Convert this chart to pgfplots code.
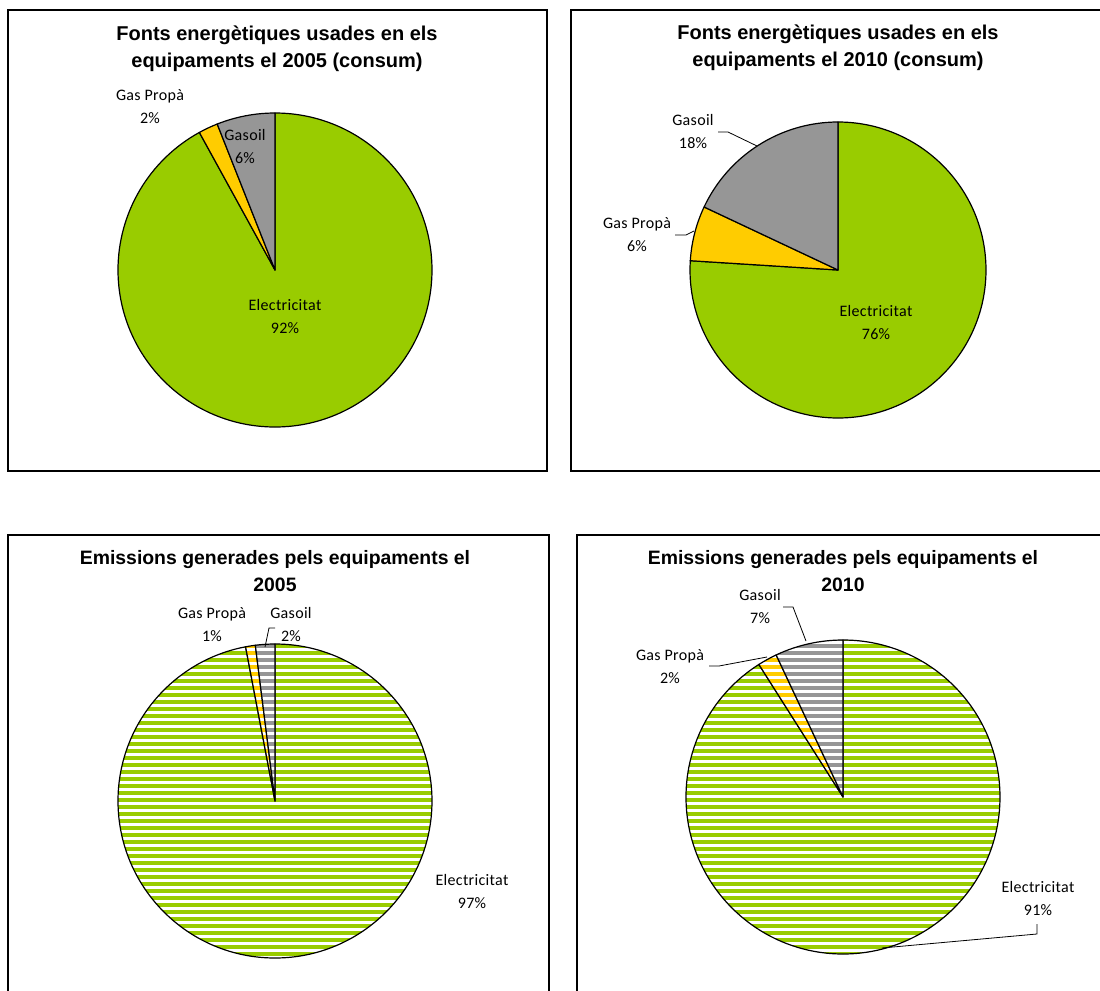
\documentclass[border=0pt]{standalone}
\usepackage{fontspec}
\setmainfont{Liberation Sans}
\newfontfamily\labfont[LetterSpace=2]{Carlito}
\usepackage{pgfplots}
\pgfplotsset{compat=1.18}
\usetikzlibrary{patterns.meta}
\definecolor{elec}{HTML}{99CC00}
\definecolor{propa}{HTML}{FFCC00}
\definecolor{gasoil}{HTML}{969696}
\tikzdeclarepattern{
  name=hstripes,
  type=uncolored,
  bounding box={(-1pt,-0.2pt) and (5pt,3.7pt)},
  tile size={(4pt,3.5pt)},
  code={\pgfpathrectangle{\pgfpoint{-1pt}{0pt}}{\pgfpoint{6pt}{2pt}}\pgfusepath{fill}}
}
% slice from cumulative percent #1 to #2, options #3, radius #4 (pt)
\newcommand\slice[4]{%
  \pgfmathsetmacro\aS{90-3.6*#1}%
  \pgfmathsetmacro\aE{90-3.6*#2}%
  \edef\doslice{\noexpand\path[\unexpanded{#3}] (axis cs:0,0) -- (axis cs:{cos(\aS)},{sin(\aS)}) arc[start angle=\aS, end angle=\aE, radius=\unexpanded{#4}] -- cycle;}%
  \doslice}
\tikzset{
  lab/.style={font=\labfont\fontsize{8}{11.5}\selectfont, align=center, inner sep=0pt},
  tit/.style={font=\fontsize{10}{13.5}\selectfont\bfseries, align=center, inner sep=0pt},
  titb/.style={font=\fontsize{9.7}{13.2}\selectfont\bfseries, align=center, inner sep=0pt},
  solid slice/.style={fill=#1, draw=black, line width=0.6pt, line join=round},
  hatch slice/.style={preaction={fill=white}, pattern=hstripes, pattern color=#1, draw=black, line width=0.6pt, line join=round}
}
\pgfplotsset{pie/.style={hide axis, scale only axis, anchor=center, xmin=-1, xmax=1, ymin=-1, ymax=1, clip=false}}
\begin{document}
\begin{tikzpicture}
\useasboundingbox (0,0) rectangle (550pt,-495.5pt);
\clip (0,0) rectangle (550pt,-495.5pt);
\fill[white] (0,0) rectangle (550pt,-495.5pt);
% ---------- pie 1: consum 2005 ----------
\begin{axis}[pie, at={(137.5pt,-135pt)}, width=157pt, height=157pt]
  \slice{0}{92}{solid slice=elec}{78.5pt}
  \slice{92}{94}{solid slice=propa}{78.5pt}
  \slice{94}{100}{solid slice=gasoil}{78.5pt}
\end{axis}
% ---------- pie 2: consum 2010 ----------
\begin{axis}[pie, at={(419pt,-135pt)}, width=148pt, height=148pt]
  \slice{0}{76}{solid slice=elec}{74pt}
  \slice{76}{82}{solid slice=propa}{74pt}
  \slice{82}{100}{solid slice=gasoil}{74pt}
\end{axis}
% ---------- pie 3: emissions 2005 ----------
\begin{axis}[pie, at={(137.5pt,-400.5pt)}, width=157pt, height=157pt]
  \slice{0}{97}{hatch slice=elec}{78.5pt}
  \slice{97}{98}{hatch slice=propa}{78.5pt}
  \slice{98}{100}{hatch slice=gasoil}{78.5pt}
\end{axis}
% ---------- pie 4: emissions 2010 ----------
\begin{axis}[pie, at={(421.5pt,-398.5pt)}, width=157pt, height=157pt]
  \slice{0}{91}{hatch slice=elec}{78.5pt}
  \slice{91}{93}{hatch slice=propa}{78.5pt}
  \slice{93}{100}{hatch slice=gasoil}{78.5pt}
\end{axis}
% ---------- frames, titles, labels (pixel coordinates) ----------
\begin{scope}[x=0.5pt, y=-0.5pt]
  \draw[line width=0.6pt] (8,10) rectangle (547,471);
  \draw[line width=0.6pt] (571,10) rectangle (1106,471);
  \draw[line width=0.6pt] (8,535) rectangle (549,1000);
  \draw[line width=0.6pt] (577,535) rectangle (1106,1000);
  \node[tit] at (277,48.5) {Fonts energètiques usades en els\\equipaments el 2005 (consum)};
  \node[tit] at (838,47.5) {Fonts energètiques usades en els\\equipaments el 2010 (consum)};
  \node[titb] at (275,571) {Emissions generades pels equipaments el\\2005};
  \node[titb] at (843,571) {Emissions generades pels equipaments el\\2010};
  % pie 1
  \node[lab] at (150,107) {Gas Propà\\2\%};
  \node[lab] at (245,147) {Gasoil\\6\%};
  \node[lab] at (285,317) {Electricitat\\92\%};
  % pie 2
  \node[lab] at (693,132) {Gasoil\\18\%};
  \draw[line width=0.4pt] (718,132) -- (728,132) -- (757,146);
  \node[lab] at (637,235) {Gas Propà\\6\%};
  \draw[line width=0.4pt] (675,235) -- (686,235) -- (694,231);
  \node[lab] at (876,323) {Electricitat\\76\%};
  % pie 3
  \node[lab] at (212,625) {Gas Propà\\1\%};
  \node[lab] at (291,625) {Gasoil\\2\%};
  \draw[line width=0.4pt] (265,647) -- (269,628) -- (275,628);
  \node[lab] at (472,892) {Electricitat\\97\%};
  % pie 4
  \node[lab] at (760,607) {Gasoil\\7\%};
  \draw[line width=0.4pt] (783,607) -- (793,607) -- (806,641);
  \node[lab] at (670,667) {Gas Propà\\2\%};
  \draw[line width=0.4pt] (709,666) -- (719,666) -- (767,657);
  \node[lab] at (1038,899) {Electricitat\\91\%};
  \draw[line width=0.4pt] (1037,924) -- (1037,934) -- (882,948);
\end{scope}
\end{tikzpicture}
\end{document}
